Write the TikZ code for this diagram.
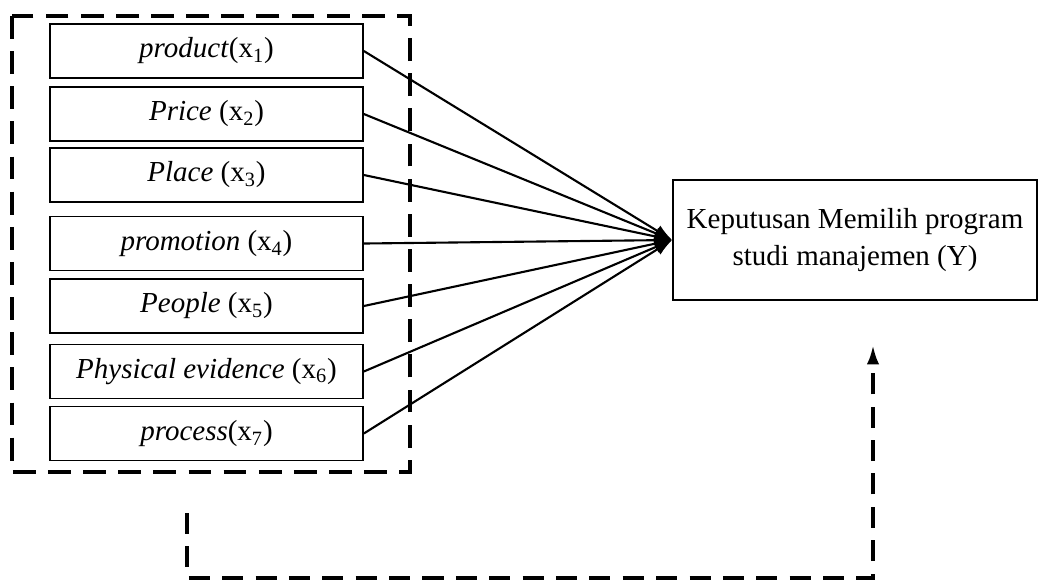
\documentclass[tikz,border=0pt]{standalone}
\usepackage{fontspec}
\setmainfont{Liberation Serif}
\usetikzlibrary{arrows.meta}

\tikzset{
  varbox/.style={draw, line width=1pt, minimum width=6.26cm, minimum height=1.08cm, inner sep=0pt, font=\fontsize{16.5}{19}\selectfont},
  ybox/.style={draw, line width=1pt, minimum width=7.28cm, minimum height=2.4cm, align=center, font=\fontsize{16.5}{21}\selectfont},
  link/.style={line width=1.2pt, -{Latex[length=10pt,width=7pt]}},
  groupline/.style={line width=2.3pt, dash pattern=on 13pt off 7pt},
}

\begin{document}
\begin{tikzpicture}[x=0.02cm, y=-0.02cm]
  \useasboundingbox (0,0) rectangle (1054,583);
  \node[varbox] (x1) at (206.5,51) {\textit{product}(x\textsubscript{1})};
  \node[varbox] (x2) at (206.5,114) {\textit{Price} (x\textsubscript{2})};
  \node[varbox] (x3) at (206.5,175) {\textit{Place} (x\textsubscript{3})};
  \node[varbox] (x4) at (206.5,243.5) {\textit{promotion} (x\textsubscript{4})};
  \node[varbox] (x5) at (206.5,306) {\textit{People} (x\textsubscript{5})};
  \node[varbox] (x6) at (206.5,371.5) {\textit{Physical evidence} (x\textsubscript{6})};
  \node[varbox] (x7) at (206.5,433.5) {\textit{process}(x\textsubscript{7})};
  \node[ybox] (Y) at (855,240) {Keputusan Memilih program\\studi manajemen (Y)};
  \foreach \i in {1,...,7}
    \draw[link] (x\i.east) -- (Y.west);
  % simultaneous influence
  \draw[groupline] (12,16) rectangle (410,472);
  \coordinate (s) at (187,513);
  \coordinate (t) at (873,345);
  \draw[groupline, line width=2pt, dash pattern=on 12pt off 7pt, -{Latex[length=11pt,width=7pt]}] (s) -- (187,578) -- (873,578) -- (t);
\end{tikzpicture}
\end{document}
